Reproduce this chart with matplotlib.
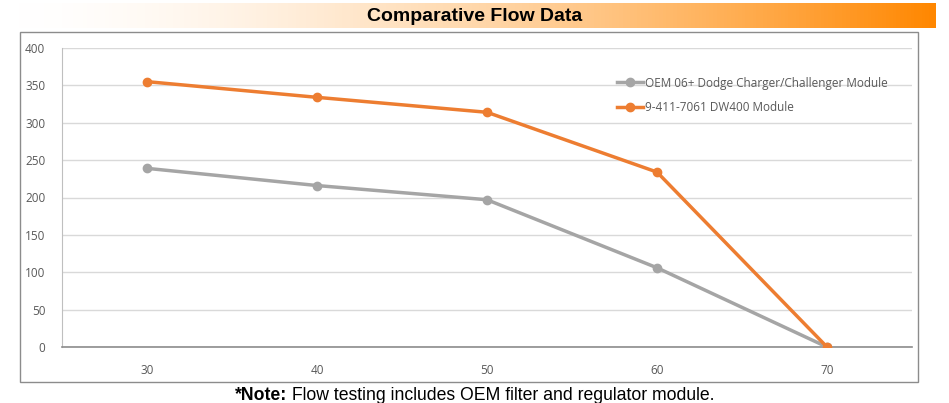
import numpy as np
import matplotlib.pyplot as plt
from matplotlib.patches import Rectangle

# data
categories = ["30", "40", "50", "60", "70"]
oem_flow = [239, 216, 197, 106, 0]
dw400_flow = [355, 334, 314, 234, 0]
y_ticks = [0, 50, 100, 150, 200, 250, 300, 350, 400]

W, H = 949, 403
fig = plt.figure(figsize=(W / 100, H / 100), dpi=100)

# title banner with white -> orange gradient
ban = fig.add_axes([15 / W, 1 - 28 / H, 920 / W, 25 / H])
t = np.linspace(0, 1, 256)
t = t ** 1.6
c0 = np.array([1.0, 1.0, 1.0])
c1 = np.array([1.0, 0.53, 0.0])
grad = (c0[None, :] * (1 - t[:, None]) + c1[None, :] * t[:, None])[None, :, :]
ban.imshow(grad, aspect="auto", extent=[0, 1, 0, 1])
ban.set_axis_off()
ban.text(0.5, 0.45, "Comparative Flow Data", ha="center", va="center",
         fontsize=14, fontweight="bold", family="Liberation Sans", color="black")

# outer chart frame
fig.patches.append(Rectangle((20 / W, 1 - 382 / H), 898 / W, 350 / H,
                             transform=fig.transFigure, fill=False,
                             edgecolor="#8c8c8c", linewidth=1.0))

ax = fig.add_axes([62 / W, 1 - 347 / H, 850 / W, 299 / H])
x = np.arange(len(categories))
ax.plot(x, oem_flow, color="#a5a5a5", linewidth=2.5, marker="o", markersize=6,
        label="OEM 06+ Dodge Charger/Challenger Module", zorder=3)
ax.plot(x, dw400_flow, color="#ed7d31", linewidth=2.5, marker="o", markersize=6,
        label="9-411-7061 DW400 Module", zorder=4)

ax.set_xlim(-0.5, len(categories) - 0.5)
ax.set_ylim(0, 400)
ax.set_xticks(x)
ax.set_xticklabels(categories)
ax.set_yticks(y_ticks)
ax.grid(axis="y", color="#d9d9d9", linewidth=1)
ax.set_axisbelow(True)
for s in ["top", "right"]:
    ax.spines[s].set_visible(False)
ax.spines["left"].set_color("#bfbfbf")
ax.spines["bottom"].set_color("#8c8c8c")
ax.spines["bottom"].set_linewidth(1.2)
ax.tick_params(axis="both", length=0, labelsize=8.5, labelcolor="#595959",
               pad=12)
for lab in ax.get_xticklabels() + ax.get_yticklabels():
    lab.set_family("Open Sans")

leg = ax.legend(loc="upper left", bbox_to_anchor=(0.64, 0.94), frameon=False,
                prop={"family": "Open Sans", "size": 8.5}, handlelength=2.2,
                handletextpad=0.2, labelspacing=1.0)
for txt in leg.get_texts():
    txt.set_color("#595959")

# footnote: bold "*Note:" followed by regular text, centred together
fig.canvas.draw()
r = fig.canvas.get_renderer()
bold = fig.text(0, 1 - 395 / H, "*Note:", ha="left", va="center",
                fontsize=12.7, fontweight="bold", family="Liberation Sans")
rest = fig.text(0, 1 - 395 / H, " Flow testing includes OEM filter and regulator module.",
                ha="left", va="center", fontsize=12.7, family="Liberation Sans")
wb = bold.get_window_extent(r).width
wr = rest.get_window_extent(r).width
x0 = (W - (wb + wr)) / 2
bold.set_x(x0 / W)
rest.set_x((x0 + wb) / W)

fig.savefig("out.png", dpi=100)
